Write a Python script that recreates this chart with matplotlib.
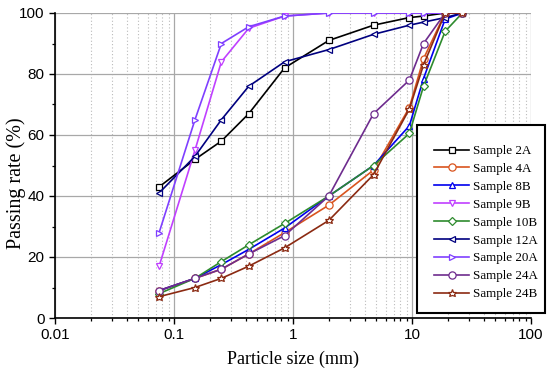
import matplotlib
matplotlib.use("Agg")
import matplotlib.pyplot as plt
from matplotlib.patches import Rectangle
from matplotlib.ticker import LogLocator, NullFormatter, MultipleLocator, FixedLocator, FixedFormatter

plt.rcParams["font.family"] = ["Liberation Sans", "DejaVu Sans"]

sizes = [0.075, 0.15, 0.25, 0.425, 0.85, 2.0, 4.75, 9.5, 12.5, 19.0, 26.5]

s2A  = [43, 52, 58, 67, 82, 91, 96, 98.5, 99, 100, 100]
s4A  = [9, 13, 16, 21, 28, 37, 48.5, 69, 85, 100, 100]
s8B  = [9, 13, 17.5, 22.5, 29.5, 40, 50, 63, 78.5, 98, 100]
s9B  = [17, 55, 84, 95, 99, 100, 100, 100, 100, 100, 100]
s10B = [8, 13, 18.5, 24, 31, 40, 50, 60.5, 76, 94, 100]
s12A = [41, 53, 65, 76, 84, 88, 93, 96, 97, 98.5, 100]
s20A = [28, 65, 90, 95.5, 99, 100, 100, 100, 100, 100, 100]
s24A = [9, 13, 16, 21, 27, 40, 67, 78, 90, 100, 100]
s24B = [7, 10, 13, 17, 23, 32, 47, 68.5, 83, 100, 100]

xtick_vals = [0.01, 0.1, 1, 10, 100]
xtick_labels = ["0.01", "0.1", "1", "10", "100"]

labels = ["Sample 2A", "Sample 4A", "Sample 8B", "Sample 9B", "Sample 10B",
          "Sample 12A", "Sample 20A", "Sample 24A", "Sample 24B"]
series = [s2A, s4A, s8B, s9B, s10B, s12A, s20A, s24A, s24B]
colors = ["#000000", "#D9541E", "#0000EE", "#C040FF", "#2E8B2E",
          "#00007F", "#7F3FFF", "#6E2C8E", "#8B2A12"]
markers = ["s", "o", "^", "v", "D", "<", ">", "o", "*"]
msizes = [4.8, 5.2, 4.6, 4.6, 4.4, 4.6, 4.6, 5.2, 6.2]

fig = plt.figure(figsize=(5.5, 3.68), dpi=100)
ax = fig.add_axes([55/550, 1-318/368, 476/550, 305/368])

handles = []
for y, lab, c, m, ms in zip(series, labels, colors, markers, msizes):
    h, = ax.plot(sizes, y, color=c, marker=m, markersize=ms, markerfacecolor="white",
                 markeredgecolor=c, markeredgewidth=0.9, linewidth=1.2, label=lab)
    handles.append(h)

ax.set_xscale("log")
ax.set_xlim(0.01, 100)
ax.set_ylim(0, 100)
ax.yaxis.set_major_locator(MultipleLocator(20))
ax.yaxis.set_minor_locator(MultipleLocator(10))
ax.xaxis.set_major_locator(FixedLocator(xtick_vals))
ax.xaxis.set_major_formatter(FixedFormatter(xtick_labels))
ax.xaxis.set_minor_locator(LogLocator(base=10, subs=range(2, 10)))
ax.xaxis.set_minor_formatter(NullFormatter())

ax.grid(True, which="major", axis="both", color="#A8A8A8", linewidth=0.9)
ax.grid(True, which="minor", axis="x", color="#BBBBBB", linestyle=(0, (1, 2)), linewidth=0.8)
ax.set_axisbelow(True)

for side in ["top", "right"]:
    ax.spines[side].set_visible(False)
for side in ["left", "bottom"]:
    ax.spines[side].set_linewidth(1.2)

ax.tick_params(axis="both", which="major", direction="out", length=4, width=1.0,
               labelsize=11)
ax.tick_params(axis="both", which="minor", direction="out", length=2.5, width=0.9)

ax.set_xlabel("Particle size (mm)", fontfamily="Liberation Serif", fontsize=13, labelpad=6)
ax.set_ylabel("Passing rate (%)", fontfamily="Liberation Serif", fontsize=14.5)
ax.yaxis.set_label_coords(-0.061, 0.443)

# legend box (frame drawn separately)
box = Rectangle((417/550, 1-313/368), 128/550, 188/368, transform=fig.transFigure,
                facecolor="white", edgecolor="black", linewidth=1.5, zorder=1)
fig.patches.append(box)

leg = fig.legend(handles, labels, loc="upper left", bbox_to_anchor=(434/550, 1-145/368),
                 bbox_transform=fig.transFigure, frameon=False,
                 prop={"family": "Liberation Serif", "size": 9.4},
                 handlelength=2.7, labelspacing=0.44, borderpad=0,
                 handletextpad=0.25, borderaxespad=0)
leg.set_zorder(5)

fig.savefig("out.png", dpi=100)
